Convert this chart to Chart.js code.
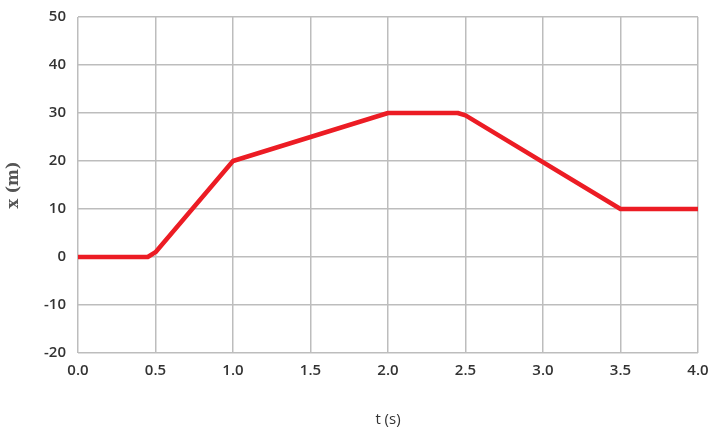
<!DOCTYPE html>
<html>
<head>
<meta charset="utf-8">
<script src="https://cdn.jsdelivr.net/npm/chart.js@4/dist/chart.umd.min.js"></script>
<style>
  html, body { margin: 0; padding: 0; background: #fff; overflow: hidden; }
  #wrap { width: 720px; height: 437px; position: relative; margin-top: -4px; }
</style>
</head>
<body>
<div id="wrap"><canvas id="posChart"></canvas></div>
<script>
// position vs time
const times = [0, 0.45, 0.5, 1.0, 2.0, 2.45, 2.5, 3.5, 4.0];
const positions = [0, 0, 1, 20, 30, 30, 29.5, 10, 10];
const xMin = 0, xMax = 4, xStep = 0.5;
const yMin = -20, yMax = 50, yStep = 10;

const points = times.map((t, i) => ({ x: t, y: positions[i] }));

const ctx = document.getElementById("posChart").getContext("2d");
new Chart(ctx, {
  type: "line",
  data: {
    datasets: [
      {
        data: points,
        borderColor: "#ec1c24",
        borderWidth: 4.5,
        borderJoinStyle: "round",
        pointRadius: 0,
        tension: 0,
        fill: false,
      },
    ],
  },
  options: {
    responsive: true,
    maintainAspectRatio: false,
    animation: false,
    layout: { padding: { top: 12, right: 22, left: 0, bottom: 0 } },
    plugins: { legend: { display: false }, tooltip: { enabled: false } },
    scales: {
      x: {
        type: "linear",
        min: xMin,
        max: xMax,
        ticks: {
          stepSize: xStep,
          color: "#333",
          font: { family: "Open Sans", size: 15, weight: "600" },
          padding: 9,
          callback: (v) => v.toFixed(1),
        },
        grid: { color: "#bdbdbd", lineWidth: 1.5, drawTicks: false },
        border: { display: false },
        title: {
          display: true,
          text: "t (s)",
          color: "#333",
          font: { family: "Open Sans", size: 15 },
          padding: { top: 21 },
        },
        afterFit: (axis) => { axis.height = 80; },
      },
      y: {
        min: yMin,
        max: yMax,
        ticks: {
          stepSize: yStep,
          color: "#333",
          font: { family: "Open Sans", size: 15, weight: "600" },
          padding: 12,
        },
        grid: { color: "#bdbdbd", lineWidth: 1.5, drawTicks: false },
        border: { display: false },
        title: {
          display: true,
          text: "x (m)",
          color: "#555",
          font: { family: "DejaVu Serif", size: 16, weight: "bold" },
          padding: { top: 4, bottom: 4 },
        },
        afterFit: (axis) => { axis.width = 78; },
      },
    },
  },
});
</script>
</body>
</html>
